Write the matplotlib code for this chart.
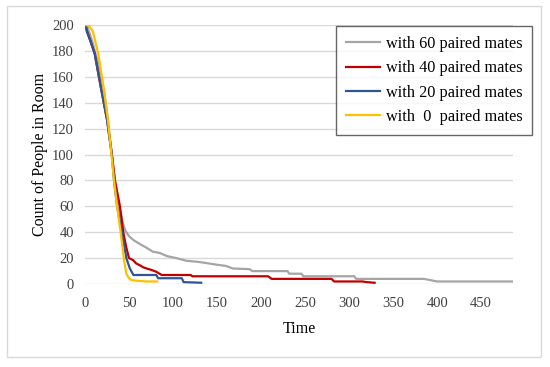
import matplotlib
matplotlib.use("Agg")

import matplotlib.pyplot as plt
from matplotlib.patches import Rectangle

plt.rcParams["font.family"] = ["Liberation Serif", "DejaVu Serif"]

# values
t_60 = [1, 3, 8, 15, 22, 26, 30.5, 34, 39, 43, 46, 50, 55, 62, 70, 77, 85, 93, 104,
        115, 130, 140, 149, 160, 168, 187, 190, 230, 232, 246, 248, 306, 308, 385, 400, 486]
v_60 = [200, 198, 188, 170, 148, 127, 100, 80, 60, 47, 41, 37, 34, 31, 28, 25, 24, 21.6, 20,
        18, 17, 16, 15, 14, 12, 11.5, 10, 10, 8, 8, 6, 6, 4, 4, 2, 2]

t_40 = [1, 2, 6, 11, 18, 25, 30.5, 34, 39.7, 43.5, 47, 50, 54.6, 58, 62, 66, 70, 75, 81,
        87, 120, 122, 208, 212, 280, 283, 315, 320, 329]
v_40 = [200, 196, 188, 178, 152, 127, 100, 80, 60, 40, 28, 20, 18.5, 16, 14.6, 13, 12, 11,
        9.5, 7, 7, 6, 6, 4, 4, 2, 2, 1.5, 1]

t_20 = [1, 2, 6, 11, 18, 25, 30.5, 33, 36.5, 42, 47, 51, 55, 81, 83, 110, 112, 132]
v_20 = [200, 195, 188, 178, 152, 127, 100, 80, 60, 40, 20, 12, 7, 7, 4.5, 4.5, 1.5, 1]

t_0 = [1, 5, 9, 15, 20, 26, 30, 33, 36.5, 40.5, 44, 47, 50, 53, 60, 70, 82]
v_0 = [200, 199, 195, 178, 157, 127, 100, 80, 60, 40, 20, 8, 4.5, 3, 2.5, 2, 2]

labels = ["with 60 paired mates", "with 40 paired mates",
          "with 20 paired mates", "with  0  paired mates"]
colors = ["#a5a5a5", "#c00000", "#2f5597", "#ffc000"]

fig = plt.figure(figsize=(5.5, 3.67), dpi=100)
ax = fig.add_axes([0.1545, 0.226, 0.778, 0.706])

# light outer frame like the exported chart area
fig.patches.append(Rectangle((7 / 550, 1 - 357 / 367), 534 / 550, 351 / 367,
                             transform=fig.transFigure, fill=False,
                             edgecolor="#d9d9d9", linewidth=1.0))

series = [(t_60, v_60), (t_40, v_40), (t_20, v_20), (t_0, v_0)]
for (t, v), lab, c in zip(series, labels, colors):
    ax.plot(t, v, color=c, linewidth=1.6, label=lab)

ax.set_xlim(0, 486)
ax.set_ylim(0, 200)
ax.set_xticks(range(0, 451, 50))
ax.set_yticks(range(0, 201, 20))
ax.grid(axis="y", color="#d9d9d9", linewidth=1.0)
ax.set_axisbelow(True)
for s in ax.spines.values():
    s.set_visible(False)
ax.tick_params(length=0, labelsize=10.5, colors="#404040")
ax.tick_params(axis="y", pad=8)
ax.tick_params(axis="x", pad=9)

ax.set_xlabel("Time", fontsize=11.5, labelpad=8)
ax.set_ylabel("Count of People in Room", fontsize=11.5, labelpad=3)

leg = ax.legend(loc="upper right", bbox_to_anchor=(532 / 550, 1 - 26 / 367),
                bbox_transform=fig.transFigure, borderaxespad=0, fontsize=11.7,
                frameon=True, fancybox=False, handlelength=2.1, handletextpad=0.35,
                labelspacing=0.52, borderpad=0.6)
leg.get_frame().set_edgecolor("#404040")
leg.get_frame().set_linewidth(1.0)

fig.savefig("out.png", dpi=100)
